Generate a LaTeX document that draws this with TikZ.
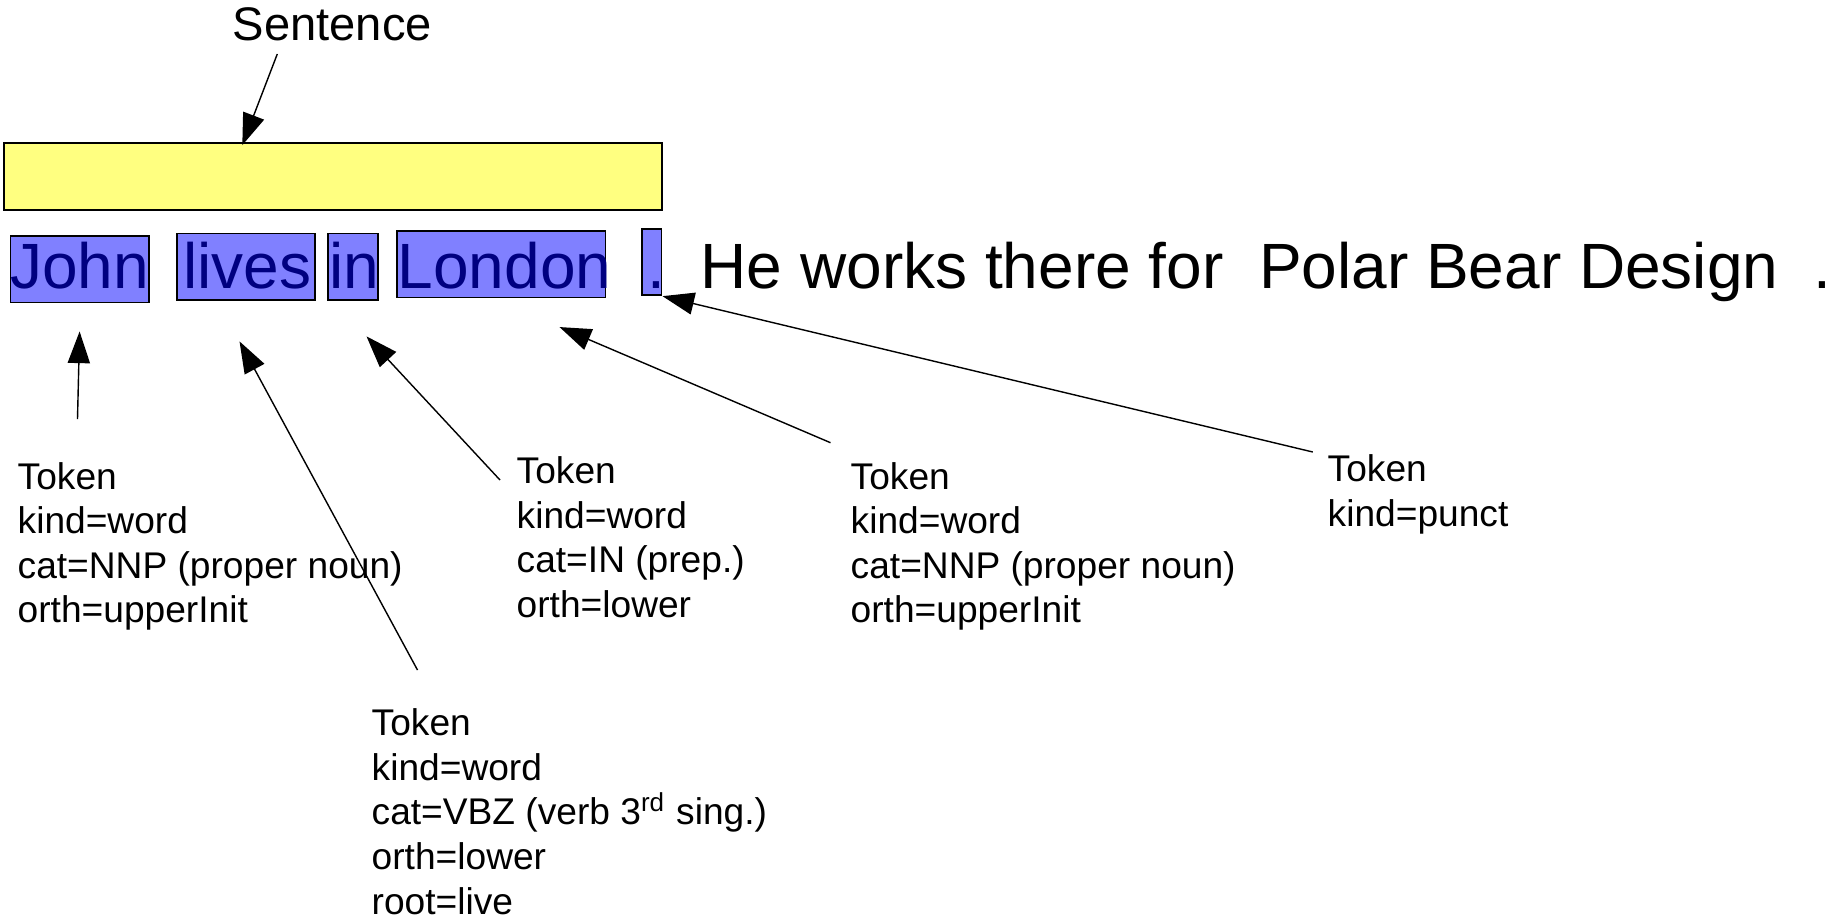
\documentclass[tikz,border=0pt]{standalone}
\usepackage{fontspec}
\setmainfont{Liberation Sans}
\usetikzlibrary{arrows.meta}
\definecolor{barfill}{RGB}{255,255,128}
\definecolor{tokfill}{RGB}{128,128,255}
\definecolor{tokink}{RGB}{0,0,128}

\begin{document}
\begin{tikzpicture}[x=0.01cm, y=-0.01cm,
    bar/.style={draw, fill=barfill, line width=0.5pt, inner sep=0pt},
    tokbox/.style={draw, fill=tokfill, line width=0.5pt, inner sep=0pt, minimum height=0.665cm},
    word/.style={anchor=base west, inner sep=0pt, font=\fontsize{18.2pt}{22pt}\selectfont},
    info/.style={anchor=base west, align=left, inner sep=0pt, font=\fontsize{10.56pt}{12.66pt}\selectfont},
    pointer/.style={line width=0.4pt, -{Triangle[length=9pt, width=6.3pt]}}]
    \useasboundingbox (0,0) rectangle (1836,923);

    % Sentence annotation
    \node[anchor=base west, inner sep=0pt, font=\fontsize{13.4pt}{16pt}\selectfont] (sent) at (232,40.7) {Sentence};
    \node[bar, minimum width=6.571cm, minimum height=0.673cm] (sentbar) at (333,176.4) {};

    % Token boxes
    \node[tokbox, minimum width=1.382cm] (john) at (79.6,269.3) {};
    \node[tokbox, minimum width=1.377cm] (lives) at (245.9,266.7) {};
    \node[tokbox, minimum width=0.50cm] (in) at (353,266.7) {};
    \node[tokbox, minimum width=2.08cm] (london) at (501.4,264.3) {};
    \node[tokbox, minimum width=0.196cm] (dot) at (651.8,262) {};

    % Text of the sentences
    \node[word, text=tokink] (wjohn) at (9.5,288) {John};
    \node[word, text=tokink] (wlives) at (182.3,288) {lives};
    \node[word, text=tokink] (win) at (328.3,288) {in};
    \node[word, text=tokink] (wlondon) at (397.1,288) {London};
    \node[word, text=tokink] (wdot) at (647,288) {.};
    \node[word] (rest) at (700,288) {He works there for\ \ Polar Bear Design\ \ .};

    % Token features (placed at the baseline of the last line)
    \node[info] (fjohn) at (17,622.8) {Token\\kind=word\\cat=NNP (proper noun)\\orth=upperInit};
    \node[info] (flives) at (371,914) {Token\\kind=word\\cat=VBZ (verb 3\textsuperscript{rd} sing.)\\orth=lower\\root=live};
    \node[info] (fin) at (516,617.5) {Token\\kind=word\\cat=IN (prep.)\\orth=lower};
    \node[info] (flondon) at (850,622.8) {Token\\kind=word\\cat=NNP (proper noun)\\orth=upperInit};
    \node[info] (fdot) at (1327,526.2) {Token\\kind=punct};

    % Arrows
    \coordinate (asent) at (277.3,54);
    \coordinate (ajohn) at (77.5,419);
    \coordinate (alives) at (417.5,670);
    \coordinate (ain) at (500,480);
    \coordinate (alondon) at (830.5,442.7);
    \coordinate (adot) at (1312.8,452);

    \draw[pointer] (asent) -- ([shift={(-90.7,3.3)}]sentbar.north);
    \draw[pointer] (ajohn) -- ([shift={(0,28)}]john.south);
    \draw[pointer] (alives) -- ([shift={(-6.4,40.5)}]lives.south);
    \draw[pointer] (ain) -- ([shift={(13.5,35.5)}]in.south);
    \draw[pointer] (alondon) -- ([shift={(58.1,28.6)}]london.south);
    \draw[pointer] (adot) -- (dot.south east);
\end{tikzpicture}
\end{document}
